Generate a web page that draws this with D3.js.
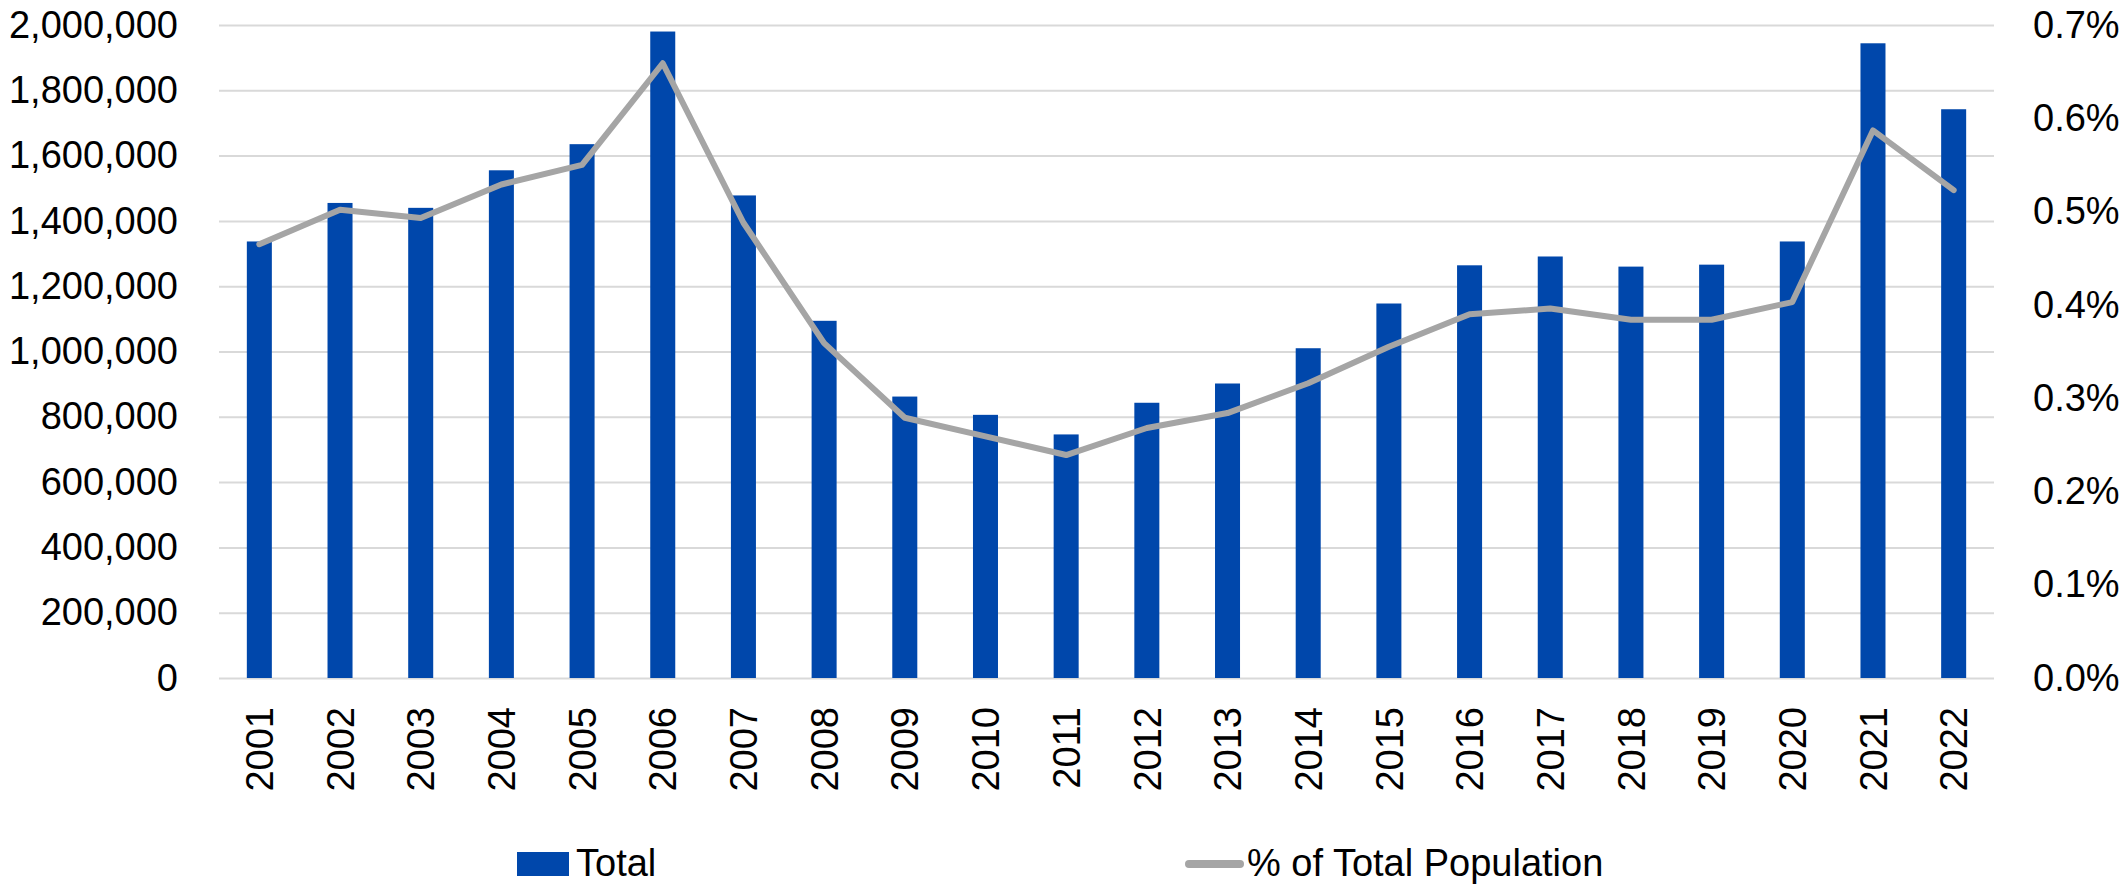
<!DOCTYPE html>
<html>
<head>
<meta charset="utf-8">
<script src="https://cdn.jsdelivr.net/npm/d3@7"></script>
<style>
  html, body { margin: 0; padding: 0; background: #fff; }
  text { font-family: 'Liberation Sans', Arial, sans-serif; fill: #000; }
</style>
</head>
<body>
<div id="chart"></div>
<script>
const years = ['2001', '2002', '2003', '2004', '2005', '2006', '2007', '2008', '2009', '2010', '2011',
  '2012', '2013', '2014', '2015', '2016', '2017', '2018', '2019', '2020', '2021', '2022'];
const totals = [1337000, 1455000, 1440000, 1555000, 1635000, 1980000, 1478000, 1094000, 862000, 806000, 746000,
  843000, 902000, 1010000, 1147000, 1264000, 1291000, 1260000, 1266000, 1337000, 1944000, 1742000];
const pctPop = [0.465, 0.502, 0.493, 0.529, 0.550, 0.659, 0.488, 0.359, 0.279, 0.259, 0.239,
  0.268, 0.284, 0.316, 0.355, 0.390, 0.396, 0.384, 0.384, 0.403, 0.587, 0.523];
const leftTicks = [0, 200000, 400000, 600000, 800000, 1000000, 1200000, 1400000, 1600000, 1800000, 2000000];
const rightTicks = [0, 0.1, 0.2, 0.3, 0.4, 0.5, 0.6, 0.7];
const legendLabels = ['Total', '% of Total Population'];

let cfg = {
    w: 2126,
    h: 886,
    margin: { top: 25, right: 132, bottom: 208, left: 219 },
    barColor: '#0047ab',
    lineColor: '#a5a5a5',
    gridColor: '#d9d9d9',
    fontSize: 38
  },
  innerW = cfg.w - cfg.margin.left - cfg.margin.right,
  innerH = cfg.h - cfg.margin.top - cfg.margin.bottom;

let x = d3.scaleBand().domain(years).range([0, innerW]).paddingInner(0.69).paddingOuter(0.345),
  yLeft = d3.scaleLinear().domain([0, 2000000]).range([innerH, 0]),
  yRight = d3.scaleLinear().domain([0, 0.7]).range([innerH, 0]);

let svg = d3.select('#chart')
  .append('svg')
  .attr('width', cfg.w)
  .attr('height', cfg.h);

let g = svg.append('g')
  .attr('transform', 'translate(' + cfg.margin.left + ',' + cfg.margin.top + ')');

//////////////////// Grid lines ////////////////////
g.append('g')
  .attr('class', 'grid')
  .call(d3.axisLeft(yLeft).tickValues(leftTicks).tickSize(-innerW).tickFormat(''))
  .call(a => a.select('.domain').remove())
  .call(a => a.selectAll('line').attr('stroke', cfg.gridColor).attr('stroke-width', 2));

//////////////////// Axes ////////////////////
g.append('g')
  .call(d3.axisLeft(yLeft).tickValues(leftTicks).tickSize(0).tickPadding(41).tickFormat(d3.format(',')))
  .call(a => a.select('.domain').remove())
  .call(a => a.selectAll('text').style('font-size', cfg.fontSize + 'px').attr('fill', '#000'));

g.append('g')
  .attr('transform', 'translate(' + innerW + ',0)')
  .call(d3.axisRight(yRight).tickValues(rightTicks).tickSize(0).tickPadding(39).tickFormat(d => d.toFixed(1) + '%'))
  .call(a => a.select('.domain').remove())
  .call(a => a.selectAll('text').style('font-size', cfg.fontSize + 'px').attr('fill', '#000'));

let xAxis = g.append('g')
  .attr('transform', 'translate(0,' + innerH + ')')
  .call(d3.axisBottom(x).tickSize(0))
  .call(a => a.select('.domain').remove());
xAxis.selectAll('text')
  .style('font-size', cfg.fontSize + 'px')
  .attr('fill', '#000')
  .attr('text-anchor', 'end')
  .attr('transform', 'rotate(-90)')
  .attr('x', -29)
  .attr('y', 0)
  .attr('dy', '0.36em');

//////////////////// Bars ////////////////////
g.selectAll('.bar')
  .data(totals)
  .enter()
  .append('rect')
  .attr('class', 'bar')
  .attr('x', (d, i) => x(years[i]))
  .attr('width', x.bandwidth())
  .attr('y', d => yLeft(d))
  .attr('height', d => innerH - yLeft(d))
  .style('fill', cfg.barColor);

//////////////////// Line ////////////////////
let line = d3.line()
  .x((d, i) => x(years[i]) + x.bandwidth() / 2)
  .y(d => yRight(d));

g.append('path')
  .datum(pctPop)
  .attr('d', line)
  .style('fill', 'none')
  .style('stroke', cfg.lineColor)
  .style('stroke-width', 6)
  .style('stroke-linejoin', 'round')
  .style('stroke-linecap', 'round');

//////////////////// Legend ////////////////////
let legend = svg.append('g').attr('class', 'legend');

legend.append('rect')
  .attr('x', 517)
  .attr('y', 852)
  .attr('width', 52)
  .attr('height', 24)
  .style('fill', cfg.barColor);
legend.append('text')
  .attr('x', 576)
  .attr('y', 876)
  .style('font-size', cfg.fontSize + 'px')
  .text(legendLabels[0]);

legend.append('line')
  .attr('x1', 1189)
  .attr('x2', 1240)
  .attr('y1', 864)
  .attr('y2', 864)
  .style('stroke', cfg.lineColor)
  .style('stroke-width', 8)
  .style('stroke-linecap', 'round');
legend.append('text')
  .attr('x', 1247)
  .attr('y', 876)
  .style('font-size', cfg.fontSize + 'px')
  .text(legendLabels[1]);
</script>
</body>
</html>
